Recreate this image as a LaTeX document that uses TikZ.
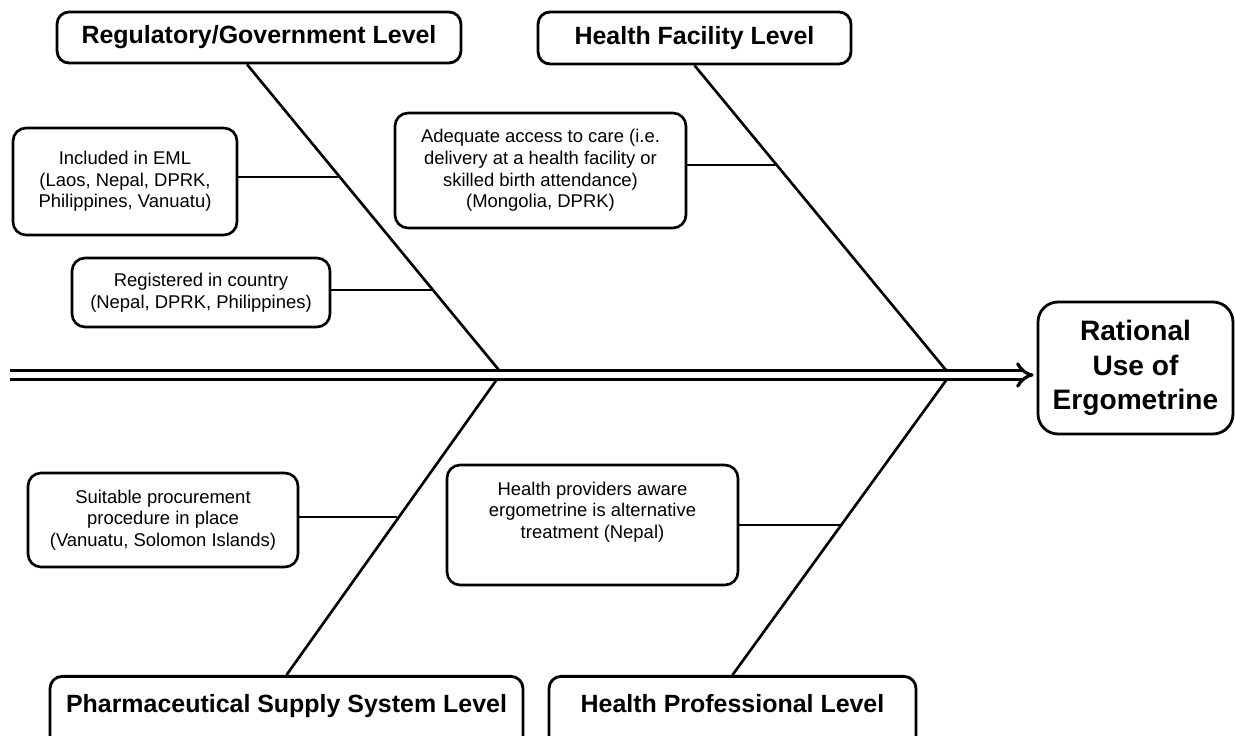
\documentclass[tikz,border=0pt]{standalone}
\usepackage{fontspec}
\setmainfont{Liberation Sans}
\usetikzlibrary{arrows.meta}

\begin{document}
\begin{tikzpicture}[x=0.02cm, y=-0.02cm, line join=round,
  lvl/.style={draw, line width=1.6pt, rounded corners=0.24cm, inner sep=0pt, font=\fontsize{14.2}{17}\selectfont\bfseries},
  lvlbot/.style={lvl, anchor=north, text height=0.72cm, text depth=1.6cm},
  sub/.style={draw, line width=1.5pt, rounded corners=0.26cm, inner sep=0pt, align=center, font=\fontsize{10.5}{12.3}\selectfont},
  bone/.style={line width=1.5pt}]
\useasboundingbox (0,0) rectangle (1235,736);
\clip (0,0) rectangle (1235,736);
% effect box
\node[draw, line width=1.6pt, rounded corners=0.4cm, inner sep=0pt, minimum width=3.9cm, minimum height=2.64cm, align=center,
  font=\fontsize{16}{19.5}\selectfont\bfseries] (goal) at (1135.5,368) {Rational\\Use of\\Ergometrine};
% level boxes
\node[lvl, minimum width=8.08cm, minimum height=1.02cm] (govlvl) at (259,37.5) {Regulatory/Government Level};
\node[lvl, minimum width=6.26cm, minimum height=1.04cm] (faclvl) at (694.5,38) {Health Facility Level};
\node[lvlbot, minimum width=9.46cm] (supplvl) at (286.5,675) {Pharmaceutical Supply System Level};
\node[lvlbot, minimum width=7.34cm] (proflvl) at (732.5,675) {Health Professional Level};
% cause boxes
\node[sub, minimum width=4.48cm, minimum height=2.14cm] (eml) at (125,181.5) {Included in EML\\(Laos, Nepal, DPRK,\\Philippines, Vanuatu)};
\node[sub, minimum width=5.16cm, minimum height=1.38cm] (reg) at (201,292.5) {Registered in country\\(Nepal, DPRK, Philippines)};
\node[sub, minimum width=5.82cm, minimum height=2.3cm] (access) at (540.5,170.5) {Adequate access to care (i.e.\\delivery at a health facility or\\skilled birth attendance)\\(Mongolia, DPRK)};
\node[sub, minimum width=5.4cm, minimum height=1.88cm] (procure) at (163,520) {Suitable procurement\\procedure in place\\(Vanuatu, Solomon Islands)};
\node[sub, minimum width=5.82cm, minimum height=2.4cm, text depth=0.6cm] (aware) at (592.5,525) {Health providers aware\\ergometrine is alternative\\treatment (Nepal)};
% joints on the spine and on the bones
\coordinate (tail) at (10,375);
\coordinate (jgov) at (503,375);
\coordinate (jfac) at (950,375);
\coordinate (jsup) at (500,375);
\coordinate (jprof) at (950,375);
\coordinate (e1) at (340.5,177);
\coordinate (e2) at (433.3,290);
\coordinate (e3) at (777,165);
\coordinate (e4) at (396.8,517);
\coordinate (e5) at (841.5,525);
% bones
\draw[bone] ([xshift=-0.24cm]govlvl.south) -- (jgov);
\foreach \b/\j in {faclvl.south/jfac, supplvl.north/jsup, proflvl.north/jprof}
  \draw[bone] (\b) -- (\j);
\foreach \n/\p in {eml/e1, reg/e2, access/e3, procure/e4, aware/e5}
  \draw[bone] (\p) -- (\p -| \n.east);
% spine
\draw[double, line width=1.8pt, double distance=3pt, shorten >=0.06cm, -{Implies[scale=1.3]}] (tail) -- (tail -| goal.west);
\end{tikzpicture}
\end{document}
